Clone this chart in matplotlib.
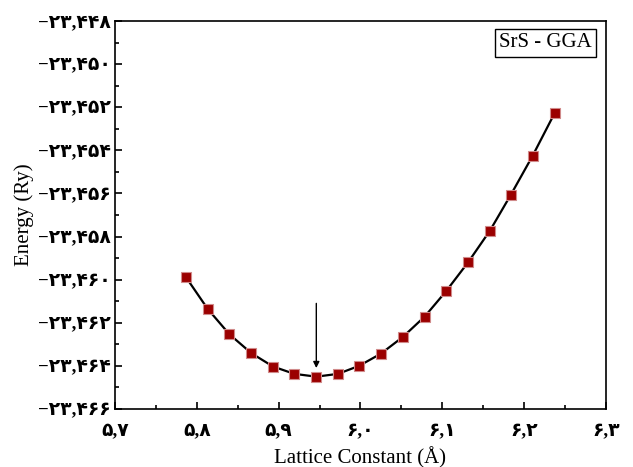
import matplotlib
matplotlib.use('Agg')
import matplotlib.pyplot as plt
from matplotlib.ticker import MultipleLocator, FuncFormatter

# lattice constant (A) and total energy (Ry)
lattice = [5.7868, 5.8133, 5.8397, 5.8666, 5.8931, 5.9191, 5.9460, 5.9725, 5.9982,
           6.0251, 6.0520, 6.0785, 6.1045, 6.1314, 6.1583, 6.1839, 6.2104, 6.2373]
energy = [-23.45989, -23.46136, -23.46253, -23.46341, -23.46403, -23.46437, -23.46450,
          -23.46437, -23.46400, -23.46343, -23.46265, -23.46171, -23.46054, -23.45920,
          -23.45772, -23.45605, -23.45425, -23.45227]
label = 'SrS - GGA'
a_min = 5.946
e_min = -23.4645

fa_digits = str.maketrans('0123456789', '۰۱۲۳۴۵۶۷۸۹')

def persian(v, decimals):
    s = '%.*f' % (decimals, abs(v))
    s = s.replace('.', ',').translate(fa_digits)
    return ('\u2212' + s) if v < 0 else s

plt.rcParams['font.family'] = ['Liberation Serif', 'DejaVu Sans']

fig = plt.figure(figsize=(6.33, 4.67), dpi=100)
ax = fig.add_axes([0.1817, 0.1242, 0.7756, 0.8308])

ax.plot(lattice, energy, color='black', lw=1.6, zorder=2)
ax.plot(lattice, energy, ls='none', marker='s', ms=7.5, mfc='#9b0000',
        mec='#d08a8a', mew=0.8, zorder=3)

ax.annotate('', xy=(a_min, e_min + 0.0004), xytext=(a_min, e_min + 0.0034),
            arrowprops=dict(arrowstyle='-|>', color='black', lw=1.0,
                            mutation_scale=9, shrinkA=0, shrinkB=0))

ax.text(0.972, 0.968, label, transform=ax.transAxes, ha='right', va='top',
        fontsize=15, family='Liberation Serif',
        bbox=dict(boxstyle='square,pad=0.2', fc='white', ec='black', lw=1.0))

ax.set_xlim(5.7, 6.3)
ax.set_ylim(-23.466, -23.448)
ax.xaxis.set_major_locator(MultipleLocator(0.1))
ax.xaxis.set_minor_locator(MultipleLocator(0.05))
ax.yaxis.set_major_locator(MultipleLocator(0.002))
ax.yaxis.set_minor_locator(MultipleLocator(0.001))
ax.xaxis.set_major_formatter(FuncFormatter(lambda v, p: persian(v, 1)))
ax.yaxis.set_major_formatter(FuncFormatter(lambda v, p: persian(v, 3)))

ax.tick_params(which='both', direction='in', top=False, right=False, width=1.2)
ax.tick_params(which='major', length=5, labelsize=13.5)
ax.tick_params(axis='x', which='major', pad=10)
ax.tick_params(axis='y', which='major', pad=3)
ax.tick_params(which='minor', length=3)
for t in ax.get_xticklabels() + ax.get_yticklabels():
    t.set_fontweight('bold')
for s in ax.spines.values():
    s.set_linewidth(1.2)

ax.set_xlabel('Lattice Constant (Å)', fontsize=15, labelpad=5)
ax.set_ylabel('Energy (Ry)', fontsize=15, labelpad=3)

fig.savefig('out.png', dpi=100)
